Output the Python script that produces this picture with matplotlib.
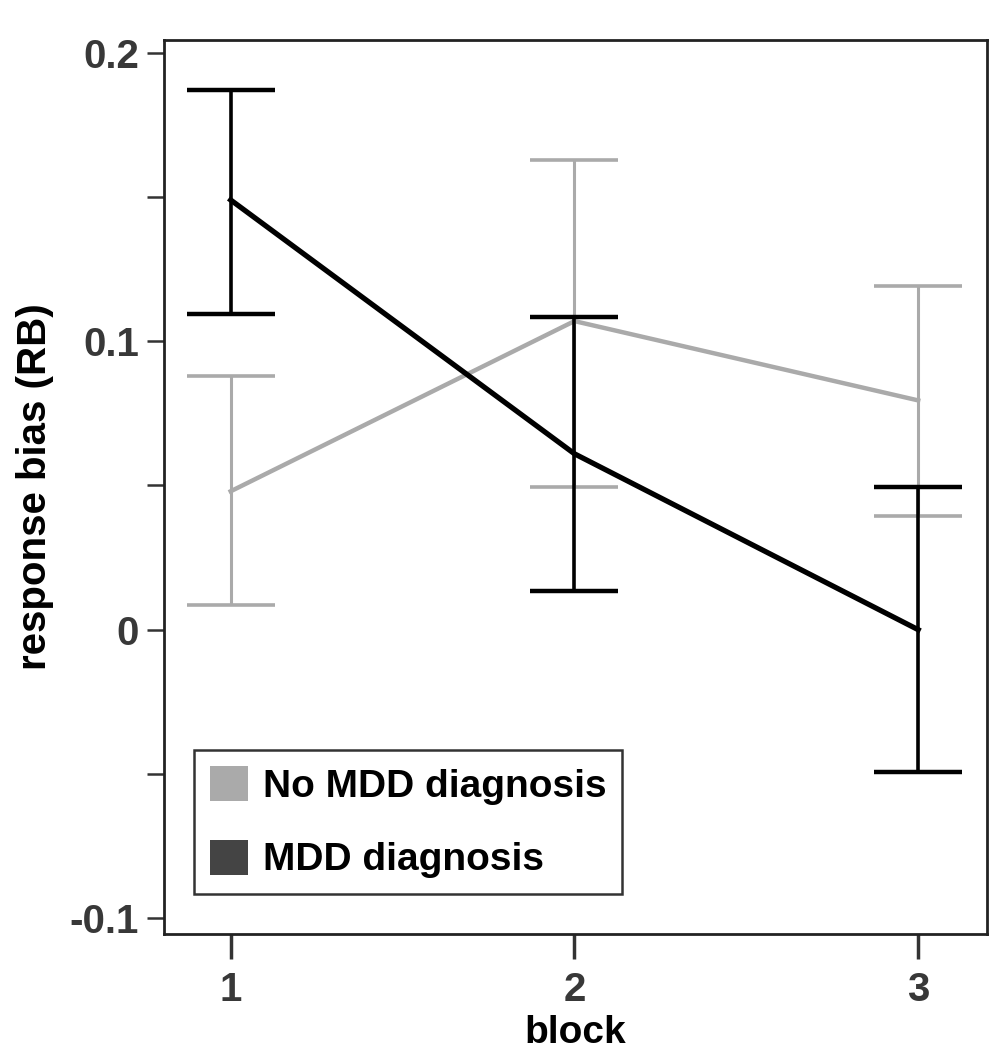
import matplotlib
matplotlib.use('Agg')
import matplotlib.pyplot as plt
from matplotlib.patches import Patch
from matplotlib.ticker import MultipleLocator

# datos
bloques = [1, 2, 3]
etiquetas_x = ['1', '2', '3']
no_mdd = [0.048, 0.107, 0.0795]
no_mdd_sup = [0.088, 0.163, 0.119]
no_mdd_inf = [0.0085, 0.0495, 0.0395]
mdd = [0.149, 0.061, 0.0]
mdd_sup = [0.187, 0.1085, 0.0495]
mdd_inf = [0.1095, 0.0135, -0.0495]
series = ['No MDD diagnosis', 'MDD diagnosis']

plt.rcParams['font.family'] = ['Liberation Sans', 'DejaVu Sans']
plt.rcParams['font.weight'] = 'bold'

fig = plt.figure(figsize=(10.03, 10.5), dpi=100)
ax = fig.add_axes([0.1635, 0.1105, 0.8205, 0.8515])

gris = '#aaaaaa'
err_g = [[m - i for m, i in zip(no_mdd, no_mdd_inf)], [s - m for m, s in zip(no_mdd, no_mdd_sup)]]
err_n = [[m - i for m, i in zip(mdd, mdd_inf)], [s - m for m, s in zip(mdd, mdd_sup)]]

ax.errorbar(bloques, no_mdd, yerr=err_g, color=gris, lw=3.2, elinewidth=2.2,
            capsize=32, capthick=2.6, zorder=2)
ax.errorbar(bloques, mdd, yerr=err_n, color='black', lw=3.8, elinewidth=2.6,
            capsize=32, capthick=3.2, zorder=3)

ax.set_xlim(0.806, 3.2)
ax.set_ylim(-0.1055, 0.2045)
ax.set_xticks(bloques)
ax.set_xticklabels(etiquetas_x)
ax.set_yticks([-0.1, 0, 0.1, 0.2])
ax.set_yticklabels(['-0.1', '0', '0.1', '0.2'])
ax.yaxis.set_minor_locator(MultipleLocator(0.05))

for s in ax.spines.values():
    s.set_linewidth(2.0)
    s.set_color('#222222')

ax.tick_params(axis='y', which='both', direction='out', length=12, width=1.8,
               labelsize=29, labelcolor='#383838', pad=6, color='#333333')
ax.tick_params(axis='x', direction='out', length=18, width=2.5,
               labelsize=29, labelcolor='#383838', pad=9, color='#333333')

ax.set_ylabel('response bias (RB)', fontsize=29, fontweight='bold', labelpad=11)
ax.set_xlabel('block', fontsize=28, fontweight='bold', labelpad=4)

handles = [Patch(facecolor=gris, edgecolor='none'),
           Patch(facecolor='#444444', edgecolor='none')]
leg = ax.legend(handles, series, loc='lower left', bbox_to_anchor=(0.0365, 0.0447),
                borderaxespad=0, fontsize=28, frameon=True, fancybox=False,
                handlelength=1.0, handleheight=1.0, handletextpad=0.38,
                labelspacing=0.9, borderpad=0.4)
leg.get_frame().set_edgecolor('black')
leg.get_frame().set_linewidth(1.8)

fig.savefig('out.png', dpi=100)
